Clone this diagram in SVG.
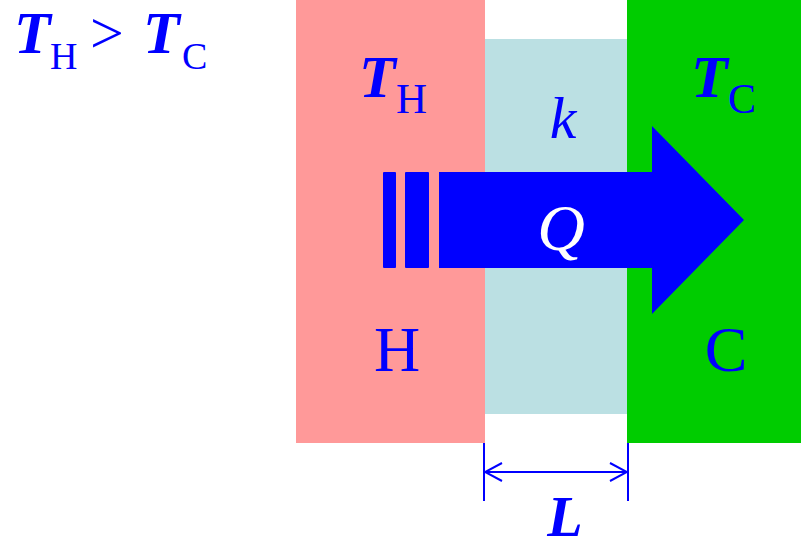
<svg xmlns="http://www.w3.org/2000/svg" width="801" height="544" viewBox="0 0 801 544">
<style>
text{font-family:"Liberation Serif","Times New Roman",serif;fill:#0000FF}
.i{font-style:italic}
.b{font-weight:bold}
.dim{stroke:#0000FF;stroke-width:2;fill:none}
</style>
<defs>
<marker id="open" viewBox="0 0 20 20" refX="19" refY="10" markerWidth="20" markerHeight="20" markerUnits="userSpaceOnUse" orient="auto-start-reverse">
<path d="M2,1 L19,10 L2,19" fill="none" stroke="#0000FF" stroke-width="2"/>
</marker>
</defs>
<rect width="801" height="544" fill="#FFFFFF"/>
<g id="hot">
<rect x="296" y="0" width="189" height="443" fill="#FF9999"/>
<text x="359" y="97" font-size="60"><tspan class="i b">T</tspan><tspan x="396" y="113" font-size="43">H</tspan></text>
<text x="397" y="371" font-size="64" text-anchor="middle">H</text>
</g>
<g id="conductor">
<rect x="485" y="39" width="142" height="375" fill="#BBE0E3"/>
<text class="i" x="563" y="138" font-size="60" text-anchor="middle">k</text>
</g>
<g id="cold">
<rect x="627" y="0" width="174" height="443" fill="#00CC00"/>
<text x="691" y="97" font-size="60"><tspan class="i b">T</tspan><tspan x="728" y="113" font-size="42">C</tspan></text>
<text x="726" y="371" font-size="64" text-anchor="middle">C</text>
</g>
<g id="label">
<text x="14" y="53" font-size="60"><tspan class="i b">T</tspan><tspan x="50" y="69" font-size="38">H</tspan><tspan x="90" y="53" font-size="60">&gt;</tspan><tspan class="i b" x="143" y="53">T</tspan><tspan x="182" y="69" font-size="38">C</tspan></text>
</g>
<g id="heat">
<rect x="383" y="172" width="13" height="96" rx="1" fill="#0000FF"/>
<rect x="405" y="172" width="24" height="96" rx="1" fill="#0000FF"/>
<polygon points="439,172 652,172 652,126 744,220 652,314 652,268 439,268" fill="#0000FF"/>
<text class="i" x="561" y="250" font-size="66" style="fill:#FFFFFF" text-anchor="middle">Q</text>
</g>
<g id="connectors">
<line class="dim" x1="484" y1="443" x2="484" y2="501"/>
<line class="dim" x1="628" y1="443" x2="628" y2="501"/>
<line class="dim" x1="485" y1="472" x2="627" y2="472" marker-start="url(#open)" marker-end="url(#open)"/>
</g>
<text class="i b" x="565" y="536" font-size="58" text-anchor="middle">L</text>
</svg>
